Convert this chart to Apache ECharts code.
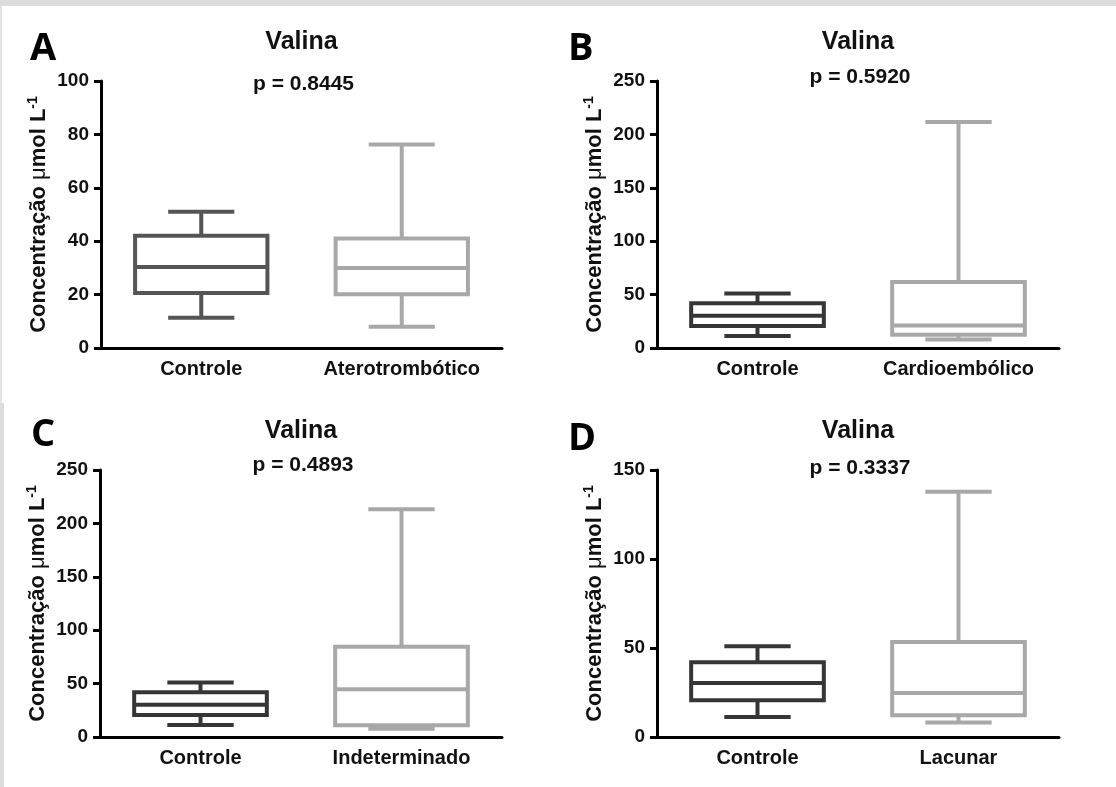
<!DOCTYPE html>
<html>
<head>
<meta charset="utf-8">
<script src="https://cdn.jsdelivr.net/npm/echarts@6/dist/echarts.min.js"></script>
<style>
  html, body { margin: 0; padding: 0; background: #ffffff; }
  #chart { width: 1116px; height: 787px; }
</style>
</head>
<body>
<div id="chart"></div>
<script>
// Valina concentrations: [min, Q1, median, Q3, max] per group
const controle        = [11.3, 20.6, 30.3, 42.0, 51.0];
const aterotrombotico = [8.0, 20.1, 30.0, 41.0, 76.2];
const cardioembolico  = [8.0, 12.5, 21.0, 61.8, 211.6];
const indeterminado   = [7.8, 11.0, 44.7, 84.4, 213.2];
const lacunar         = [8.1, 12.2, 24.7, 53.4, 137.8];

const categoriesA = ['Controle', 'Aterotrombótico'];
const categoriesB = ['Controle', 'Cardioembólico'];
const categoriesC = ['Controle', 'Indeterminado'];
const categoriesD = ['Controle', 'Lacunar'];

const pValues = ['p = 0.8445', 'p = 0.5920', 'p = 0.4893', 'p = 0.3337'];
const panelLetters = ['A', 'B', 'C', 'D'];
const yMax = [100, 250, 250, 150];
const yStep = [20, 50, 50, 50];

const FONT = '"Liberation Sans", Arial, sans-serif';
const TEXT = '#111111';

const panels = [
  { cats: categoriesA, groups: [controle, aterotrombotico], colors: ['#555555', '#a8a8a8'] },
  { cats: categoriesB, groups: [controle, cardioembolico],  colors: ['#363636', '#a8a8a8'] },
  { cats: categoriesC, groups: [controle, indeterminado],   colors: ['#363636', '#a8a8a8'] },
  { cats: categoriesD, groups: [controle, lacunar],         colors: ['#363636', '#a8a8a8'] }
];

// grid placement of the four panels
const grids = [
  { left: 101, top: 81,  width: 401, height: 267 },
  { left: 657, top: 81,  width: 402, height: 267 },
  { left: 100, top: 470, width: 402, height: 267 },
  { left: 657, top: 470, width: 402, height: 267 }
];
const letterPos = [[30, 49], [568, 49], [31, 435], [568, 439]];
const pOffset = [3, -4, -5, -2];

function boxRenderer(colors) {
  return function (params, api) {
    const cat = api.value(0);
    const vMin = api.value(1), q1 = api.value(2), med = api.value(3), q3 = api.value(4), vMax = api.value(5);
    const band = api.size([1, 0])[0];
    const bw = band * 0.66;
    const cw = bw * 0.5;
    const cx = api.coord([cat, 0])[0];
    const y = v => api.coord([cat, v])[1];
    const color = colors[params.dataIndex];
    const st = { stroke: color, lineWidth: 4, fill: null };
    return {
      type: 'group',
      children: [
        { type: 'line', shape: { x1: cx, y1: y(q3), x2: cx, y2: y(vMax) }, style: st },
        { type: 'line', shape: { x1: cx, y1: y(q1), x2: cx, y2: y(vMin) }, style: st },
        { type: 'line', shape: { x1: cx - cw / 2, y1: y(vMax), x2: cx + cw / 2, y2: y(vMax) }, style: st },
        { type: 'line', shape: { x1: cx - cw / 2, y1: y(vMin), x2: cx + cw / 2, y2: y(vMin) }, style: st },
        { type: 'rect', shape: { x: cx - bw / 2, y: y(q3), width: bw, height: y(q1) - y(q3) },
          style: { stroke: color, lineWidth: 4, fill: '#ffffff' } },
        { type: 'line', shape: { x1: cx - bw / 2, y1: y(med), x2: cx + bw / 2, y2: y(med) }, style: st }
      ]
    };
  };
}

const option = {
  backgroundColor: '#ffffff',
  animation: false,
  grid: grids.map(g => Object.assign({ containLabel: false }, g)),
  xAxis: panels.map((p, i) => ({
    type: 'category',
    gridIndex: i,
    data: p.cats,
    boundaryGap: true,
    axisLine: { lineStyle: { color: '#000', width: 3 } },
    axisTick: { alignWithLabel: true, interval: 0, length: 7, lineStyle: { color: '#000', width: 3 } },
    axisLabel: { interval: 0, hideOverlap: false, color: TEXT, fontFamily: FONT, fontWeight: 'bold', fontSize: 20, margin: 11 },
    splitLine: { show: false }
  })),
  yAxis: panels.map((p, i) => ({
    type: 'value',
    gridIndex: i,
    min: 0,
    max: yMax[i],
    interval: yStep[i],
    axisLine: { show: true, lineStyle: { color: '#000', width: 3 } },
    axisTick: { show: true, length: 7, lineStyle: { color: '#000', width: 3 } },
    axisLabel: { color: TEXT, fontFamily: FONT, fontWeight: 'bold', fontSize: 19, margin: 12 },
    splitLine: { show: false },
    name: '{a|Concentração }{mu|μ}{a|mol L}{sup|-1}',
    nameLocation: 'middle',
    nameGap: 50,
    nameTextStyle: {
      rich: {
        a: { fontFamily: FONT, fontWeight: 'bold', fontSize: 22, color: TEXT },
        mu: { fontFamily: FONT, fontWeight: 'normal', fontSize: 22, color: TEXT },
        sup: { fontFamily: FONT, fontWeight: 'bold', fontSize: 14, color: TEXT, padding: [0, 0, 11, 0] }
      }
    }
  })),
  series: panels.map((p, i) => ({
    type: 'custom',
    xAxisIndex: i,
    yAxisIndex: i,
    renderItem: boxRenderer(p.colors),
    encode: { x: 0, y: [1, 2, 3, 4, 5] },
    data: p.groups.map((g, k) => [k].concat(g)),
    silent: true
  })),
  graphic: [
    { type: 'rect', shape: { x: 0, y: 0, width: 1116, height: 6 }, style: { fill: '#dcdcdc' }, silent: true },
    { type: 'rect', shape: { x: 0, y: 6, width: 2, height: 397 }, style: { fill: '#e3e3e3' }, silent: true },
    { type: 'rect', shape: { x: 0, y: 403, width: 4, height: 384 }, style: { fill: '#dcdcdc' }, silent: true }
  ].concat(
    grids.flatMap((g, i) => [
      { type: 'text', x: g.left + g.width * 0.5, y: g.top - 39,
        style: { text: 'Valina', font: 'bold 25px ' + FONT, fill: TEXT, textAlign: 'center', textVerticalAlign: 'middle' } },
      { type: 'text', x: g.left + g.width * 0.505, y: g.top + pOffset[i],
        style: { text: pValues[i], font: 'bold 21px ' + FONT, fill: TEXT, textAlign: 'center', textVerticalAlign: 'middle' } },
      { type: 'text', x: letterPos[i][0], y: letterPos[i][1],
        style: { text: panelLetters[i], font: 'bold 38px "Open Sans", ' + FONT, fill: '#000', textAlign: 'left', textVerticalAlign: 'middle' } }
    ])
  )
};

const chart = echarts.init(document.getElementById('chart'), null, { renderer: 'canvas' });
chart.setOption(option);
</script>
</body>
</html>
